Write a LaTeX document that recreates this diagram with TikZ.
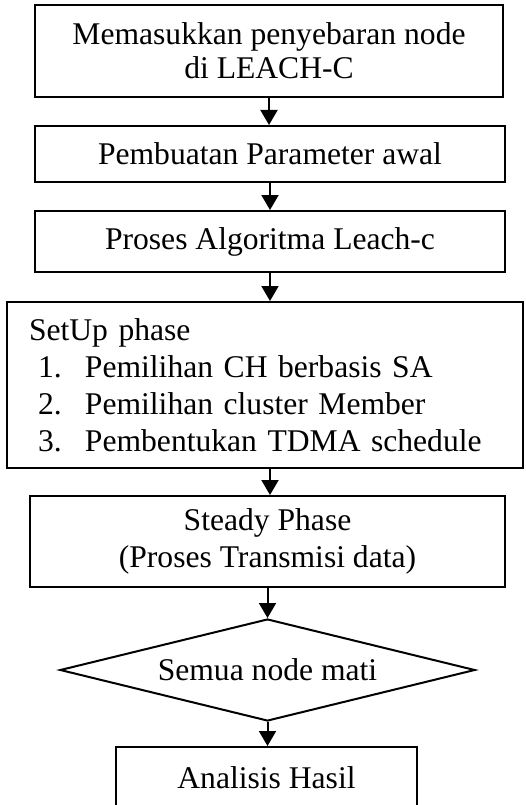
\documentclass[tikz,border=0pt]{standalone}
\usepackage{fontspec}
\setmainfont{Liberation Serif}
\usetikzlibrary{shapes.geometric,arrows.meta}
\begin{document}
\begin{tikzpicture}[x=1pt,y=-1pt,
    every node/.style={font=\fontsize{31.6}{37}\selectfont},
    box/.style={draw,line width=2pt,inner sep=0pt,align=center},
    cond/.style={draw,diamond,line width=2pt,inner sep=0pt,aspect=4},
    arr/.style={line width=2pt,-{Triangle[length=15pt,width=17pt]}}]
  \useasboundingbox (0,0) rectangle (525,805);
  \clip (0,0) rectangle (525,805);
  \draw
    (269,51) node[box,minimum width=468pt,minimum height=92pt] (input){Memasukkan penyebaran node\\[-3pt]di LEACH-C}
    (270,154) node[box,minimum width=470pt,minimum height=56pt] (param){Pembuatan Parameter awal}
    (270,241.5) node[box,minimum width=470pt,minimum height=61pt] (leach){Proses Algoritma Leach-c}
    (265,385) node[box,align=left,text width=472pt,inner xsep=22pt,minimum height=166pt] (setup){%
      \raisebox{-4pt}[\height][\depth]{\begin{tabular}{@{}l@{}}
      SetUp phase\\
      \hspace*{9pt}\makebox[47pt][l]{1.}Pemilihan CH berbasis SA\\
      \hspace*{9pt}\makebox[47pt][l]{2.}Pemilihan cluster Member\\
      \hspace*{9pt}\makebox[47pt][l]{3.}Pembentukan TDMA schedule
      \end{tabular}}}
    (267.5,541.5) node[box,minimum width=475pt,minimum height=91pt] (steady){Steady Phase\\(Proses Transmisi data)}
    (267.5,670) node[cond,minimum width=415pt,minimum height=102pt] (mati){Semua node mati}
    (266.5,778) node[box,minimum width=301pt,minimum height=62pt] (hasil){Analisis Hasil};
  \begin{scope}[arr]
    \draw (input.south) -- (input.south |- param.north);
    \draw (param.south) -- (param.south |- leach.north);
    \draw (leach.south) -- (leach.south |- setup.north);
    \draw (setup.south -| leach.south) -- (leach.south |- steady.north);
    \draw (steady.south) -- (mati.north);
    \draw (mati.south) -- (mati.south |- hasil.north);
  \end{scope}
\end{tikzpicture}
\end{document}
